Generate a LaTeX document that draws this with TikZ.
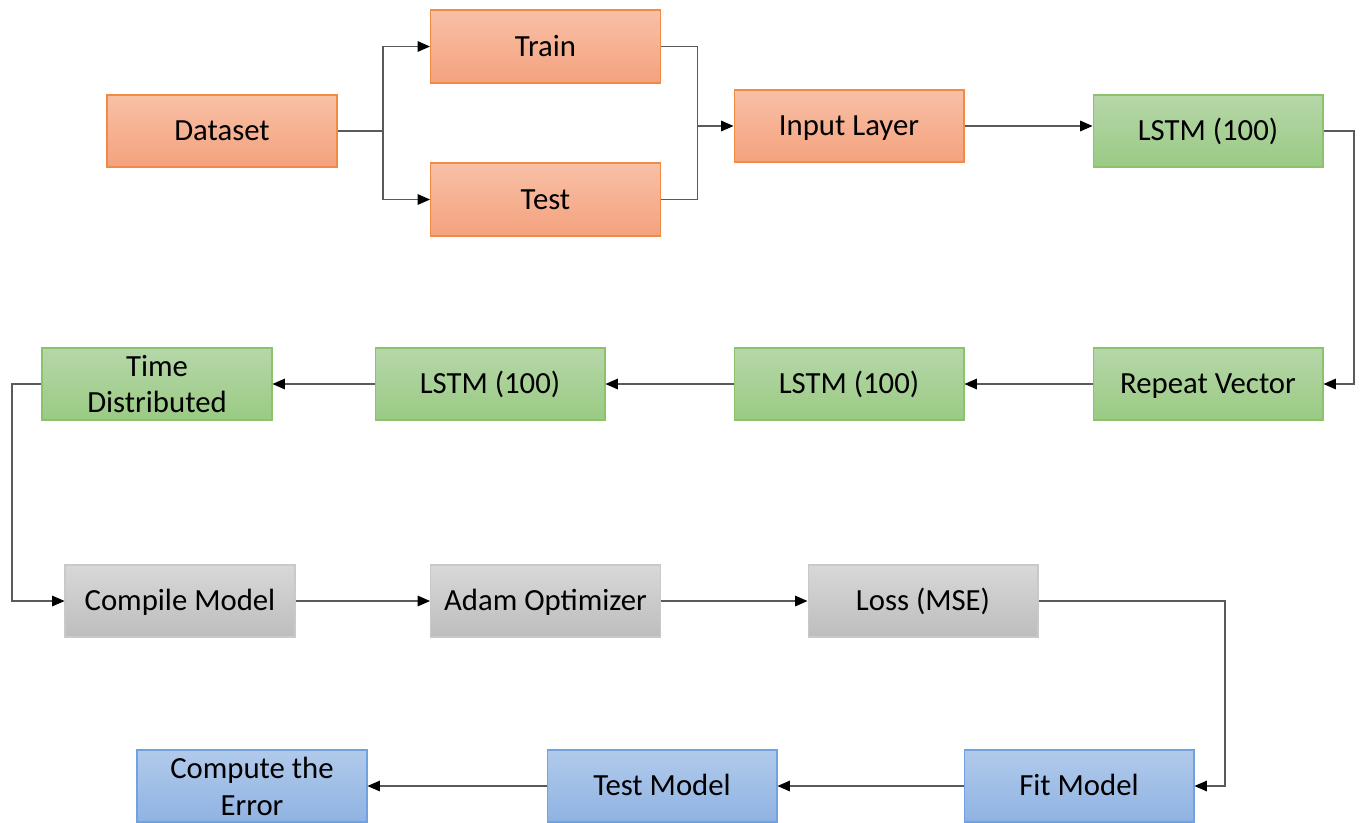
\documentclass[tikz,border=0pt]{standalone}
\usepackage{fontspec}
\setmainfont{Carlito}
\usepackage{tikz}
\usetikzlibrary{arrows.meta,calc}

\definecolor{orgtop}{HTML}{F8C0A6}
\definecolor{orgbot}{HTML}{F4A27E}
\definecolor{orgline}{HTML}{F08A45}
\definecolor{grntop}{HTML}{B6D7A9}
\definecolor{grnbot}{HTML}{9ACA84}
\definecolor{grnline}{HTML}{8CC26C}
\definecolor{grytop}{HTML}{D8D8D8}
\definecolor{grybot}{HTML}{BDBDBD}
\definecolor{gryline}{HTML}{C9C9C9}
\definecolor{blutop}{HTML}{B1CAEB}
\definecolor{blubot}{HTML}{8FB3E2}
\definecolor{bluline}{HTML}{6FA2DE}
\definecolor{wire}{HTML}{5A5A5A}

\tikzset{
	box/.style={minimum width=4.6cm, minimum height=1.44cm, inner sep=0pt, align=center,
		text height=11.3pt, text depth=0pt,
		line width=0.6pt, font=\fontsize{17.5}{21}\selectfont},
	twoline/.style={text height=, text depth=},
	orgbox/.style={box, draw=orgline, top color=orgtop, bottom color=orgbot},
	grnbox/.style={box, draw=grnline, top color=grntop, bottom color=grnbot},
	grybox/.style={box, draw=gryline, top color=grytop, bottom color=grybot},
	blubox/.style={box, draw=bluline, top color=blutop, bottom color=blubot},
	arr/.style={draw=wire, line width=0.6pt, -{Triangle[length=7pt,width=6pt,fill=black,color=black]}},
	wireline/.style={draw=wire, line width=0.6pt}
}

\begin{document}
\begin{tikzpicture}[x=0.02cm, y=-0.02cm]
		\useasboundingbox (0,0) rectangle (1361,822);
		% data split
		\node[orgbox] (dataset) at (222,131) {Dataset};
		\node[orgbox, minimum height=1.46cm] (train) at (545.5,46.5) {Train};
		\node[orgbox, minimum height=1.46cm] (test) at (545.5,199.5) {Test};
		\node[orgbox] (input) at (849,126) {Input Layer};
		% network layers
		\node[grnbox] (lstma) at (1208,131) {LSTM (100)};
		\node[grnbox] (repeat) at (1208,384) {Repeat Vector};
		\node[grnbox] (lstmc) at (849,384) {LSTM (100)};
		\node[grnbox] (lstmb) at (490,384) {LSTM (100)};
		\node[grnbox, twoline] (timed) at (157,384) {Time\\Distributed};
		% training setup
		\node[grybox] (compile) at (180,601) {Compile Model};
		\node[grybox] (adam) at (545.5,601) {Adam Optimizer};
		\node[grybox] (loss) at (923,601) {Loss (MSE)};
		% evaluation
		\node[blubox] (fit) at (1079,786) {Fit Model};
		\node[blubox] (testm) at (662,786) {Test Model};
		\node[blubox, twoline] (compute) at (252,786) {Compute the\\Error};
		% split and merge points
		\coordinate (split) at (383,131);
		\coordinate (merge) at (697.5,126);
		\draw[wireline] (dataset.east) -- (split);
		\draw[arr] (split) |- (train.west);
		\draw[arr] (split) |- (test.west);
		\draw[wireline] (train.east) -| (merge);
		\draw[wireline] (test.east) -| (merge);
		\draw[arr] (merge) -- (input.west);
		\draw[arr] (input.east) -- (input.east -| lstma.west);
		% loops between the rows
		\coordinate (rloop) at (1354,131);
		\draw[arr] (lstma.east) -- (rloop) |- (repeat.east);
		\foreach \a/\b in {repeat/lstmc, lstmc/lstmb, lstmb/timed, compile/adam, adam/loss, fit/testm, testm/compute}
			\draw[arr] (\a) -- (\b);
		\coordinate (lloop) at (12,384);
		\draw[arr] (timed.west) -- (lloop) |- (compile.west);
		\coordinate (floop) at (1225,601);
		\draw[arr] (loss.east) -- (floop) |- (fit.east);
	\end{tikzpicture}
\end{document}
